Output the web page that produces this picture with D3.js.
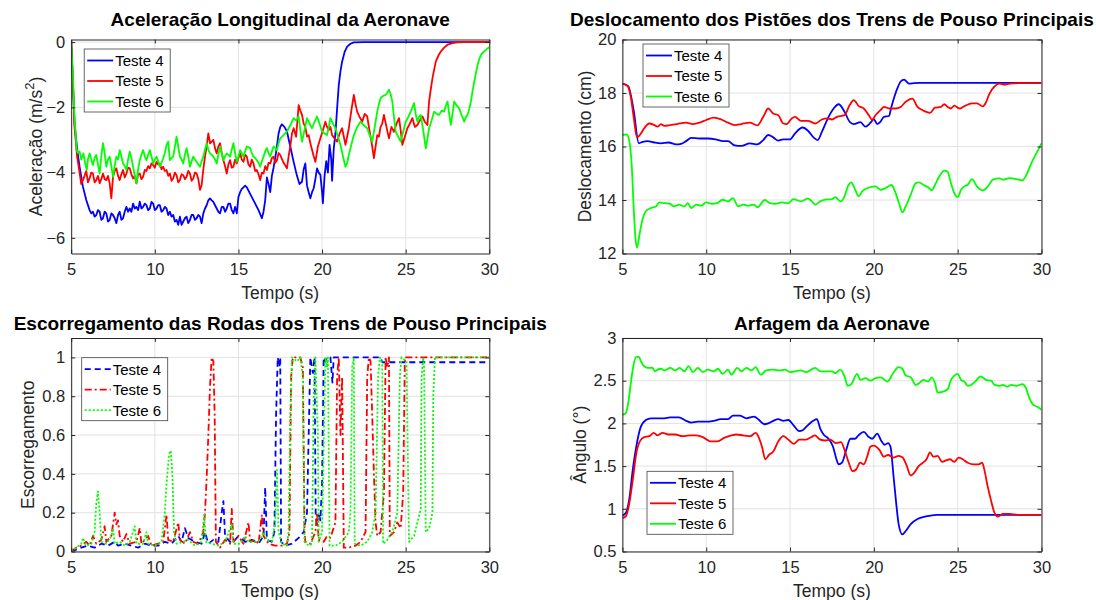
<!DOCTYPE html>
<html>
<head>
<meta charset="utf-8">
<script src="https://cdn.jsdelivr.net/npm/d3@7"></script>
<style>
  body { margin: 0; background: #fff; }
  svg { display: block; }
  text { font-family: "Liberation Sans", Arial, Helvetica, sans-serif; }
</style>
</head>
<body>
<svg id="fig" width="1096" height="600"></svg>
<script>
// ---- shared categories / ticks ----
const timeTicks = [5, 10, 15, 20, 25, 30];
const seriesNames = ["Teste 4", "Teste 5", "Teste 6"];
const seriesColors = ["#0000ff", "#ff0000", "#00ff00"];
const accelTicks = [-6, -4, -2, 0];
const displTicks = [12, 14, 16, 18, 20];
const slipTicks = [0, 0.2, 0.4, 0.6, 0.8, 1];
const pitchTicks = [0.5, 1, 1.5, 2, 2.5, 3];

// ---- longitudinal acceleration (m/s^2), [time s, value] ----
const accelTeste4 = [[5,0],[5.1,-1.2],[5.2,-2.5],[5.36,-3.3],[5.5,-3.82],[5.7,-4.43],[5.9,-4.84],[6.1,-5.15],[6.2,-5.25],[6.3,-5.2],[6.4,-5.35],[6.5,-5.3],[6.6,-5.15],[6.7,-5.2],[6.8,-5.45],[6.9,-5.4],[7.0,-5.2],[7.1,-5.25],[7.2,-5.5],[7.3,-5.45],[7.4,-5.25],[7.5,-5.3],[7.6,-5.4],[7.7,-5.55],[7.8,-5.3],[7.9,-5.2],[8.0,-5.45],[8.1,-5.4],[8.2,-5.2],[8.3,-5.05],[8.4,-5.2],[8.5,-5.1],[8.6,-5.2],[8.7,-4.95],[8.8,-5.1],[8.9,-5.05],[9.0,-5.15],[9.1,-4.89],[9.2,-5.1],[9.3,-5.05],[9.4,-4.95],[9.5,-5.0],[9.6,-5.15],[9.7,-5.1],[9.8,-4.9],[9.9,-4.95],[10.0,-5.15],[10.1,-5.1],[10.2,-5.0],[10.3,-5.0],[10.4,-5.2],[10.5,-5.15],[10.6,-5.05],[10.7,-5.1],[10.8,-5.3],[10.9,-5.2],[11.0,-5.35],[11.1,-5.3],[11.2,-5.5],[11.3,-5.45],[11.4,-5.6],[11.5,-5.35],[11.6,-5.6],[11.7,-5.5],[11.8,-5.4],[11.9,-5.35],[12.0,-5.55],[12.1,-5.45],[12.2,-5.3],[12.3,-5.3],[12.4,-5.45],[12.5,-5.4],[12.6,-5.3],[12.7,-5.35],[12.8,-5.55],[12.9,-5.25],[13.0,-5.1],[13.1,-5.0],[13.2,-4.85],[13.3,-4.79],[13.4,-4.85],[13.5,-4.9],[13.6,-5.0],[13.7,-5.1],[13.8,-5.2],[13.9,-5.25],[14.0,-5.05],[14.1,-5.05],[14.2,-5.2],[14.3,-5.1],[14.4,-4.95],[14.5,-4.95],[14.6,-5.15],[14.7,-5.25],[14.8,-5.05],[14.9,-5.25],[15.0,-4.75],[15.1,-4.6],[15.2,-4.5],[15.3,-4.45],[15.4,-4.4],[15.5,-4.45],[15.6,-4.55],[15.8,-4.75],[16.0,-4.95],[16.2,-5.15],[16.4,-5.4],[16.5,-5.2],[16.6,-4.85],[16.7,-4.15],[16.8,-4.35],[16.9,-4.6],[17.0,-4.1],[17.1,-3.85],[17.2,-3.55],[17.3,-3.2],[17.4,-2.8],[17.5,-2.6],[17.6,-2.52],[17.75,-2.6],[17.9,-2.74],[18.1,-3.2],[18.3,-3.67],[18.5,-4.1],[18.65,-4.35],[18.8,-4.28],[18.9,-3.9],[19.0,-3.72],[19.1,-4.4],[19.2,-4.6],[19.3,-4.79],[19.4,-4.6],[19.5,-4.48],[19.6,-4.2],[19.7,-3.87],[19.8,-4.0],[19.9,-4.07],[20.0,-4.6],[20.05,-4.94],[20.15,-4.1],[20.25,-3.65],[20.35,-4.0],[20.45,-3.15],[20.55,-3.6],[20.6,-4.25],[20.7,-3.26],[20.8,-2.8],[20.9,-2.03],[21.0,-1.31],[21.1,-0.9],[21.2,-0.6],[21.35,-0.3],[21.5,-0.14],[21.7,-0.05],[21.9,-0.01],[22.5,0],[30,0]];
const accelTeste5 = [[5,0],[5.1,-1.2],[5.2,-2.6],[5.35,-3.5],[5.5,-4.0],[5.6,-4.35],[5.7,-4.23],[5.8,-4.1],[5.9,-3.95],[6.0,-4.3],[6.1,-4.18],[6.2,-4.0],[6.3,-4.03],[6.4,-4.3],[6.5,-4.23],[6.6,-4.1],[6.7,-4.33],[6.8,-4.2],[6.9,-4.03],[7.0,-4.2],[7.1,-4.23],[7.2,-4.1],[7.3,-4.33],[7.4,-4.79],[7.5,-4.13],[7.6,-3.95],[7.7,-3.87],[7.8,-4.1],[7.9,-4.23],[8.0,-4.05],[8.1,-3.92],[8.2,-4.15],[8.3,-4.03],[8.4,-3.85],[8.5,-3.87],[8.6,-4.05],[8.7,-4.18],[8.8,-4.1],[8.9,-4.33],[9.0,-4.05],[9.1,-4.03],[9.2,-4.2],[9.3,-4.13],[9.4,-3.92],[9.5,-3.95],[9.6,-3.8],[9.7,-3.87],[9.8,-3.72],[9.9,-3.77],[10.0,-3.85],[10.1,-3.67],[10.2,-3.75],[10.3,-3.72],[10.4,-3.9],[10.5,-3.82],[10.6,-3.95],[10.7,-3.92],[10.8,-4.1],[10.9,-4.03],[11.0,-4.25],[11.1,-4.18],[11.2,-4.0],[11.3,-4.08],[11.4,-4.3],[11.5,-4.23],[11.6,-4.05],[11.7,-4.08],[11.8,-4.2],[11.9,-4.13],[12.0,-3.95],[12.1,-4.03],[12.2,-4.25],[12.3,-4.18],[12.4,-4.0],[12.5,-4.03],[12.6,-4.2],[12.7,-4.53],[12.8,-4.38],[12.9,-3.9],[13.0,-3.51],[13.1,-3.2],[13.2,-2.8],[13.3,-3.1],[13.4,-3.05],[13.5,-3.0],[13.6,-3.25],[13.7,-3.41],[13.8,-3.2],[13.9,-3.1],[14.0,-3.4],[14.1,-3.62],[14.2,-3.8],[14.3,-4.03],[14.4,-3.75],[14.5,-3.62],[14.6,-3.85],[14.7,-3.82],[14.8,-3.6],[14.9,-3.72],[15.0,-3.55],[15.1,-3.41],[15.2,-3.6],[15.3,-3.67],[15.4,-3.45],[15.5,-3.51],[15.6,-3.75],[15.7,-3.82],[15.8,-3.6],[15.9,-3.72],[16.0,-3.95],[16.1,-3.92],[16.2,-4.05],[16.3,-4.23],[16.4,-4.0],[16.5,-4.03],[16.6,-3.8],[16.7,-3.92],[16.8,-3.7],[16.9,-3.72],[17.0,-3.55],[17.1,-3.51],[17.2,-3.7],[17.3,-3.62],[17.4,-3.4],[17.5,-3.46],[17.7,-3.7],[17.9,-3.87],[18.0,-3.5],[18.1,-3.2],[18.2,-2.8],[18.3,-2.64],[18.45,-2.9],[18.6,-1.93],[18.7,-2.1],[18.8,-2.23],[18.9,-2.5],[19.0,-2.6],[19.1,-2.9],[19.2,-2.85],[19.3,-3.1],[19.4,-3.3],[19.5,-3.5],[19.6,-3.67],[19.75,-3.2],[19.9,-2.95],[20.05,-2.7],[20.2,-2.44],[20.3,-2.6],[20.4,-2.7],[20.5,-2.6],[20.6,-2.85],[20.75,-2.95],[20.9,-3.05],[21.05,-2.8],[21.2,-2.64],[21.3,-2.9],[21.4,-3.15],[21.5,-2.9],[21.6,-2.64],[21.75,-2.1],[21.9,-1.62],[22.0,-1.9],[22.1,-2.13],[22.25,-2.3],[22.4,-2.44],[22.55,-2.2],[22.7,-2.28],[22.8,-2.6],[22.9,-2.9],[23.0,-3.2],[23.1,-3.56],[23.2,-3.2],[23.3,-2.85],[23.4,-2.9],[23.5,-2.6],[23.6,-2.5],[23.7,-2.23],[23.85,-2.6],[24.0,-2.95],[24.15,-2.6],[24.3,-2.75],[24.45,-2.5],[24.6,-2.33],[24.7,-2.7],[24.8,-3.15],[24.95,-2.9],[25.1,-2.64],[25.25,-2.5],[25.4,-2.33],[25.55,-2.6],[25.7,-2.54],[25.85,-2.4],[26.0,-2.28],[26.15,-2.45],[26.3,-2.54],[26.4,-1.82],[26.5,-1.45],[26.6,-1.11],[26.7,-0.85],[26.8,-0.6],[26.95,-0.42],[27.1,-0.29],[27.3,-0.17],[27.5,-0.08],[27.8,-0.03],[28.1,-0.01],[28.5,0],[30,0]];
const accelTeste6 = [[5,0],[5.1,-1.0],[5.2,-2.3],[5.33,-3.31],[5.4,-3.4],[5.5,-3.35],[5.6,-3.6],[5.73,-3.41],[5.83,-3.7],[5.93,-3.92],[6.0,-3.6],[6.1,-3.41],[6.2,-3.6],[6.3,-3.77],[6.4,-3.55],[6.5,-3.46],[6.6,-3.75],[6.7,-4.03],[6.8,-3.5],[6.9,-3.1],[7.0,-3.4],[7.1,-3.82],[7.2,-3.6],[7.3,-3.51],[7.4,-3.8],[7.5,-4.13],[7.6,-3.8],[7.7,-3.51],[7.8,-3.6],[7.9,-3.31],[8.0,-3.5],[8.1,-3.72],[8.2,-3.8],[8.3,-3.92],[8.4,-3.6],[8.5,-3.36],[8.6,-3.55],[8.7,-3.82],[8.8,-4.1],[8.9,-4.33],[9.0,-3.9],[9.1,-3.62],[9.2,-3.45],[9.3,-3.31],[9.4,-3.5],[9.5,-3.62],[9.6,-3.45],[9.7,-3.31],[9.8,-3.5],[9.9,-3.72],[10.0,-3.6],[10.1,-3.51],[10.2,-3.65],[10.3,-3.82],[10.4,-3.7],[10.5,-3.56],[10.6,-3.4],[10.7,-3.15],[10.8,-3.05],[10.9,-3.62],[11.0,-3.55],[11.1,-3.51],[11.2,-3.2],[11.3,-2.9],[11.4,-3.2],[11.5,-3.51],[11.6,-3.6],[11.7,-3.72],[11.8,-3.45],[11.9,-3.25],[12.0,-3.5],[12.1,-3.82],[12.2,-3.65],[12.3,-3.51],[12.4,-3.6],[12.5,-3.67],[12.6,-3.75],[12.7,-3.82],[12.8,-3.65],[12.9,-3.51],[13.0,-3.3],[13.1,-3.1],[13.2,-3.3],[13.3,-3.41],[13.4,-3.45],[13.5,-3.51],[13.6,-3.6],[13.7,-3.72],[13.8,-3.45],[13.9,-3.2],[14.0,-3.4],[14.1,-3.62],[14.2,-3.5],[14.3,-3.41],[14.4,-3.45],[14.5,-3.51],[14.6,-3.3],[14.7,-3.1],[14.8,-3.4],[14.9,-3.67],[15.0,-3.5],[15.1,-3.31],[15.2,-3.4],[15.3,-3.51],[15.4,-3.35],[15.5,-3.2],[15.6,-3.22],[15.7,-3.25],[15.8,-3.4],[15.9,-3.51],[16.0,-3.55],[16.1,-3.62],[16.2,-3.7],[16.3,-3.82],[16.4,-3.65],[16.5,-3.51],[16.6,-3.35],[16.7,-3.25],[16.8,-3.4],[16.9,-3.51],[17.0,-3.35],[17.1,-3.2],[17.2,-3.25],[17.3,-3.31],[17.4,-3.1],[17.5,-2.95],[17.7,-2.85],[17.9,-2.74],[18.1,-2.55],[18.3,-2.33],[18.45,-2.4],[18.6,-2.28],[18.7,-2.7],[18.8,-3.05],[18.95,-2.7],[19.1,-2.33],[19.25,-2.5],[19.4,-2.64],[19.55,-2.45],[19.7,-2.28],[19.85,-2.5],[20.0,-2.74],[20.15,-2.8],[20.3,-2.85],[20.4,-2.6],[20.5,-2.33],[20.65,-2.5],[20.8,-2.64],[20.95,-2.9],[21.1,-3.15],[21.25,-3.5],[21.4,-3.82],[21.5,-3.7],[21.6,-3.46],[21.75,-3.15],[21.9,-2.85],[22.1,-2.6],[22.3,-2.44],[22.5,-2.55],[22.7,-2.64],[22.85,-2.85],[23.0,-3.05],[23.15,-2.6],[23.3,-2.13],[23.4,-1.9],[23.5,-1.72],[23.65,-1.65],[23.8,-1.62],[23.9,-1.55],[24.0,-1.46],[24.1,-1.6],[24.2,-1.82],[24.3,-2.3],[24.4,-2.74],[24.55,-2.9],[24.7,-3.05],[24.85,-2.75],[25.0,-2.44],[25.15,-2.3],[25.3,-2.13],[25.4,-2.0],[25.5,-1.87],[25.6,-2.2],[25.7,-2.44],[25.8,-2.3],[25.9,-2.23],[26.05,-2.7],[26.2,-3.26],[26.3,-2.95],[26.4,-2.64],[26.55,-2.4],[26.7,-2.13],[26.85,-2.2],[27.0,-2.23],[27.15,-2.1],[27.3,-2.13],[27.4,-1.95],[27.5,-1.82],[27.6,-2.2],[27.7,-2.54],[27.8,-2.2],[27.9,-1.82],[28.05,-1.95],[28.2,-2.03],[28.35,-2.25],[28.5,-2.44],[28.6,-2.3],[28.7,-2.23],[28.8,-2.05],[28.9,-1.82],[29.0,-1.5],[29.1,-1.21],[29.2,-0.95],[29.3,-0.7],[29.4,-0.52],[29.5,-0.39],[29.65,-0.3],[29.8,-0.24],[30,-0.15]];

// ---- landing-gear piston displacement (cm) ----
const displTeste4 = [[5,18.35],[5.35,18.25],[5.67,17.36],[5.98,16.12],[6.2,16.17],[6.5,16.2],[6.9,16.15],[7.3,16.12],[7.75,16.15],[8.2,16.08],[8.5,16.1],[8.8,16.2],[9.1,16.32],[9.6,16.3],[10.1,16.3],[10.55,16.27],[11.0,16.2],[11.3,16.2],[11.7,16.04],[12.1,16.02],[12.6,16.12],[13.05,16.08],[13.4,16.24],[13.7,16.43],[14.0,16.34],[14.3,16.22],[14.6,16.27],[15.0,16.27],[15.3,16.49],[15.75,16.71],[16.07,16.59],[16.4,16.34],[16.65,16.24],[16.9,16.55],[17.3,17.11],[17.6,17.42],[17.9,17.58],[18.25,17.3],[18.56,16.92],[18.8,16.84],[19.2,16.91],[19.5,16.74],[19.8,16.89],[20.0,17.02],[20.2,16.84],[20.4,16.93],[20.6,17.11],[20.9,17.14],[21.05,17.49],[21.4,18.17],[21.6,18.43],[21.8,18.5],[22.1,18.35],[22.4,18.37],[22.7,18.38],[30,18.38]];
const displTeste5 = [[5,18.35],[5.3,18.27],[5.5,17.85],[5.67,17.11],[5.87,16.34],[6.04,16.43],[6.3,16.68],[6.6,16.86],[6.9,16.8],[7.1,16.74],[7.3,16.84],[7.5,16.77],[7.85,16.8],[8.27,16.84],[8.8,16.89],[9.2,16.84],[9.6,16.89],[10.0,16.99],[10.45,17.08],[10.9,17.01],[11.3,16.89],[11.7,16.8],[12.1,16.84],[12.6,16.89],[13.05,16.79],[13.4,17.11],[13.7,17.42],[14.0,17.23],[14.3,17.17],[14.6,16.86],[14.8,16.84],[15.1,17.05],[15.3,17.11],[15.65,16.96],[16.07,16.96],[16.5,16.86],[16.9,17.01],[17.2,17.05],[17.5,17.01],[17.8,17.11],[18.25,17.17],[18.56,17.55],[18.8,17.73],[19.1,17.51],[19.4,17.42],[19.7,17.17],[19.9,17.0],[20.1,17.17],[20.4,17.36],[20.6,17.48],[20.95,17.42],[21.3,17.42],[21.6,17.48],[21.9,17.67],[22.3,17.79],[22.6,17.48],[22.9,17.36],[23.35,17.26],[23.65,17.45],[24.0,17.48],[24.2,17.58],[24.4,17.48],[24.6,17.42],[24.8,17.53],[25.1,17.42],[25.4,17.51],[25.85,17.61],[26.15,17.61],[26.5,17.5],[26.7,17.67],[26.9,17.98],[27.2,18.25],[27.5,18.35],[27.8,18.31],[28.1,18.35],[28.6,18.37],[30,18.37]];
const displTeste6 = [[5,16.43],[5.25,16.45],[5.4,16.24],[5.56,15.25],[5.67,13.76],[5.77,12.65],[5.87,12.22],[6.04,12.78],[6.2,13.27],[6.4,13.58],[6.7,13.7],[7.0,13.76],[7.2,13.91],[7.5,13.88],[7.85,13.86],[8.06,13.76],[8.37,13.83],[8.7,13.76],[8.9,13.88],[9.1,13.7],[9.4,13.83],[9.7,13.79],[10.0,13.91],[10.35,13.86],[10.65,13.88],[10.97,14.01],[11.3,13.95],[11.6,14.07],[11.9,13.76],[12.2,13.83],[12.5,13.79],[12.85,13.83],[13.05,13.73],[13.5,14.0],[13.8,13.88],[14.1,13.86],[14.5,13.91],[14.9,13.88],[15.2,14.03],[15.65,13.95],[16.07,14.05],[16.3,13.95],[16.5,13.83],[16.8,13.95],[17.1,14.01],[17.5,14.03],[17.7,14.11],[18.0,13.95],[18.25,14.14],[18.45,14.51],[18.66,14.66],[18.8,14.51],[19.1,14.14],[19.3,14.32],[19.5,14.41],[19.8,14.48],[20.1,14.51],[20.4,14.38],[20.7,14.45],[21.05,14.56],[21.26,14.32],[21.5,13.88],[21.7,13.54],[21.9,13.76],[22.2,14.2],[22.5,14.63],[22.7,14.66],[22.97,14.56],[23.24,14.48],[23.45,14.36],[23.65,14.57],[23.9,14.88],[24.2,15.1],[24.4,15.06],[24.6,14.63],[24.8,14.26],[25.0,14.11],[25.2,14.38],[25.4,14.51],[25.6,14.57],[25.85,14.78],[26.15,14.51],[26.5,14.36],[26.8,14.51],[27.1,14.76],[27.5,14.81],[27.7,14.76],[28.1,14.82],[28.5,14.78],[28.85,14.73],[29.05,14.88],[29.4,15.38],[29.7,15.75],[30,16.12]];

// ---- main-gear wheel slip ratio ----
const slipTeste4 = [[5,0],[5.3,0.01],[5.6,0.02],[6.0,0.03],[6.4,0.02],[6.8,0.04],[7.2,0.03],[7.6,0.05],[7.8,0.03],[8.2,0.04],[8.6,0.03],[9.0,0.02],[9.4,0.04],[9.8,0.03],[10.2,0.03],[10.6,0.05],[11.0,0.04],[11.4,0.08],[11.6,0.05],[11.8,0.12],[12.0,0.07],[12.4,0.05],[12.8,0.04],[13.0,0.1],[13.2,0.04],[13.5,0.06],[13.8,0.05],[14.0,0.2],[14.1,0.26],[14.2,0.08],[14.5,0.05],[14.8,0.06],[15.0,0.08],[15.4,0.05],[15.8,0.06],[16.2,0.04],[16.5,0.08],[16.6,0.33],[16.7,0.06],[17.0,0.05],[17.15,0.1],[17.25,0.7],[17.35,1],[17.45,0.95],[17.5,1],[17.55,0.05],[17.8,0.03],[18.2,0.04],[18.6,0.07],[18.9,0.1],[19.1,0.2],[19.2,0.6],[19.3,1],[19.45,0.92],[19.55,1],[19.62,0.18],[19.7,0.14],[19.8,0.2],[19.9,0.16],[20.0,0.35],[20.1,1],[20.2,0.98],[20.3,1],[20.5,1],[20.62,0.87],[20.7,1],[23.5,1],[23.6,0.975],[30,0.975]];
const slipTeste5 = [[5,0],[5.3,0.02],[5.6,0.03],[5.9,0.05],[6.1,0.03],[6.3,0.08],[6.5,0.04],[6.8,0.06],[7.0,0.13],[7.1,0.05],[7.4,0.08],[7.6,0.2],[7.7,0.14],[7.8,0.16],[7.9,0.08],[8.1,0.05],[8.3,0.09],[8.5,0.04],[8.9,0.05],[9.1,0.12],[9.2,0.04],[9.6,0.08],[9.8,0.03],[10.2,0.04],[10.5,0.05],[10.7,0.19],[10.8,0.06],[11.1,0.05],[11.4,0.15],[11.5,0.06],[11.8,0.04],[12.1,0.1],[12.3,0.05],[12.6,0.04],[12.9,0.1],[13.0,0.2],[13.1,0.38],[13.2,0.6],[13.3,0.85],[13.4,1],[13.5,0.98],[13.58,0.7],[13.65,0.05],[13.9,0.02],[14.2,0.06],[14.5,0.04],[14.6,0.22],[14.7,0.05],[15.0,0.08],[15.3,0.04],[15.6,0.15],[15.7,0.05],[16.0,0.06],[16.2,0.04],[16.4,0.19],[16.5,0.08],[16.8,0.04],[17.2,0.03],[17.6,0.03],[17.9,0.04],[18.05,0.1],[18.15,0.9],[18.25,1],[18.7,1],[18.85,0.95],[18.95,0.1],[19.0,0.05],[19.3,0.04],[19.6,0.1],[19.7,0.2],[19.8,0.06],[20.1,0.05],[20.3,0.08],[20.5,0.07],[20.8,0.15],[20.9,0.9],[21.0,1],[21.1,0.6],[21.2,0.9],[21.3,0.02],[21.6,0.02],[22.0,0.03],[22.3,0.05],[22.6,0.1],[22.7,0.9],[22.8,1],[22.9,0.98],[23.0,0.7],[23.1,0.4],[23.2,0.15],[23.3,0.08],[23.5,0.1],[23.7,0.3],[23.8,1],[23.9,0.95],[24.0,1],[24.05,0.08],[24.3,0.1],[24.5,0.15],[24.7,0.12],[24.85,0.3],[24.95,1],[30,1]];
const slipTeste6 = [[5,0],[5.3,0.02],[5.6,0.04],[5.7,0.07],[5.9,0.03],[6.2,0.04],[6.4,0.1],[6.5,0.25],[6.6,0.31],[6.7,0.2],[6.8,0.05],[7.1,0.04],[7.4,0.08],[7.5,0.12],[7.6,0.04],[7.9,0.05],[8.2,0.03],[8.5,0.05],[8.8,0.13],[8.9,0.04],[9.3,0.04],[9.5,0.1],[9.6,0.04],[10.0,0.03],[10.4,0.05],[10.6,0.2],[10.7,0.35],[10.85,0.5],[10.95,0.52],[11.05,0.4],[11.15,0.1],[11.3,0.04],[11.7,0.05],[12.0,0.06],[12.4,0.03],[12.8,0.05],[12.95,0.19],[13.05,0.05],[13.4,0.04],[13.8,0.03],[14.2,0.05],[14.6,0.14],[14.7,0.04],[15.1,0.04],[15.4,0.08],[15.6,0.05],[16.0,0.05],[16.3,0.06],[16.5,0.1],[16.7,0.06],[17.0,0.05],[17.2,0.15],[17.3,0.42],[17.4,0.1],[17.6,0.04],[17.9,0.03],[18.0,0.1],[18.1,0.7],[18.2,1],[18.5,0.98],[18.7,1],[18.85,0.9],[18.95,0.05],[19.2,0.03],[19.4,0.04],[19.5,0.8],[19.6,1],[19.75,0.6],[19.8,0.05],[20.0,0.1],[20.2,1],[20.3,0.95],[20.35,1],[20.45,0.03],[20.8,0.03],[21.2,0.05],[21.6,0.1],[21.7,0.2],[21.8,0.95],[21.9,1],[21.95,0.04],[22.3,0.03],[22.7,0.05],[23.0,0.1],[23.2,0.2],[23.35,0.9],[23.45,1],[23.6,0.97],[23.65,0.04],[23.9,0.06],[24.2,0.1],[24.5,0.2],[24.65,0.9],[24.75,1],[25.05,0.98],[25.2,0.05],[25.5,0.08],[25.7,0.15],[25.9,0.22],[25.95,0.9],[26.05,1],[26.1,0.95],[26.2,0.1],[26.4,0.12],[26.6,0.2],[26.65,0.8],[26.75,1],[30,1]];

// ---- aircraft pitch angle (deg) ----
const pitchTeste4 = [[5,0.92],[5.2,0.95],[5.4,1.1],[5.62,1.46],[5.83,1.73],[6.08,1.95],[6.4,2.04],[6.7,2.06],[7.1,2.06],[7.5,2.06],[7.85,2.07],[8.37,2.07],[8.8,2.03],[9.1,2.01],[9.5,2.02],[9.9,2.02],[10.45,2.03],[10.87,2.05],[11.3,2.05],[11.6,2.09],[12.0,2.09],[12.4,2.06],[12.85,2.08],[13.15,2.04],[13.47,1.99],[13.7,2.0],[14.0,2.03],[14.3,2.05],[14.6,2.03],[14.9,2.04],[15.2,1.98],[15.55,1.91],[15.75,1.92],[16.07,1.98],[16.38,2.03],[16.6,2.05],[16.8,1.94],[17.0,1.87],[17.3,1.82],[17.56,1.73],[17.77,1.58],[17.9,1.52],[18.1,1.54],[18.35,1.69],[18.6,1.82],[18.87,1.82],[19.08,1.86],[19.4,1.9],[19.7,1.84],[19.9,1.82],[20.2,1.88],[20.43,1.8],[20.64,1.75],[20.85,1.77],[21.0,1.72],[21.16,1.41],[21.33,1.07],[21.47,0.83],[21.7,0.7],[21.9,0.74],[22.2,0.82],[22.6,0.88],[23.1,0.91],[23.75,0.93],[24.6,0.93],[30,0.93]];
const pitchTeste5 = [[5,0.89],[5.2,0.91],[5.4,1.05],[5.62,1.34],[5.83,1.65],[6.04,1.79],[6.3,1.84],[6.6,1.85],[6.87,1.89],[7.1,1.86],[7.4,1.89],[7.75,1.87],[8.16,1.87],[8.58,1.85],[9.0,1.86],[9.4,1.86],[9.8,1.84],[10.24,1.79],[10.66,1.79],[11.07,1.83],[11.5,1.86],[11.8,1.87],[12.2,1.86],[12.63,1.85],[12.95,1.89],[13.1,1.85],[13.32,1.73],[13.53,1.58],[13.74,1.63],[14.0,1.67],[14.3,1.79],[14.6,1.85],[14.9,1.81],[15.23,1.76],[15.55,1.81],[15.96,1.81],[16.27,1.84],[16.48,1.86],[16.8,1.81],[17.1,1.8],[17.4,1.81],[17.73,1.77],[18.04,1.78],[18.25,1.69],[18.52,1.53],[18.73,1.44],[18.94,1.46],[19.18,1.54],[19.4,1.52],[19.6,1.61],[19.8,1.73],[20.0,1.74],[20.33,1.69],[20.6,1.61],[20.85,1.63],[21.16,1.6],[21.47,1.62],[21.72,1.6],[21.93,1.52],[22.2,1.39],[22.4,1.42],[22.67,1.5],[22.93,1.54],[23.14,1.58],[23.35,1.66],[23.55,1.61],[23.8,1.62],[24.07,1.55],[24.34,1.57],[24.55,1.58],[24.8,1.55],[25.05,1.6],[25.3,1.58],[25.6,1.54],[25.95,1.52],[26.25,1.52],[26.46,1.54],[26.6,1.45],[26.77,1.28],[27.0,1.09],[27.2,0.95],[27.4,0.91],[27.7,0.94],[28.1,0.94],[28.6,0.93],[30,0.93]];
const pitchTeste6 = [[5,2.1],[5.2,2.12],[5.35,2.24],[5.5,2.47],[5.67,2.69],[5.83,2.78],[5.98,2.78],[6.1,2.73],[6.3,2.67],[6.55,2.65],[6.8,2.65],[6.95,2.61],[7.1,2.63],[7.3,2.64],[7.5,2.62],[7.85,2.65],[8.16,2.62],[8.4,2.65],[8.7,2.61],[8.95,2.67],[9.2,2.6],[9.5,2.65],[9.8,2.6],[10.1,2.63],[10.45,2.61],[10.7,2.64],[10.97,2.58],[11.3,2.63],[11.5,2.57],[11.85,2.65],[12.1,2.61],[12.4,2.65],[12.7,2.62],[12.95,2.66],[13.25,2.57],[13.57,2.62],[14.0,2.63],[14.4,2.62],[14.7,2.63],[15.0,2.6],[15.3,2.61],[15.65,2.62],[15.96,2.6],[16.5,2.65],[16.8,2.61],[17.1,2.61],[17.5,2.61],[17.7,2.59],[18.0,2.63],[18.25,2.55],[18.45,2.44],[18.66,2.46],[19.0,2.58],[19.2,2.51],[19.5,2.53],[19.8,2.5],[20.1,2.53],[20.4,2.54],[20.8,2.49],[21.16,2.59],[21.47,2.66],[21.7,2.64],[21.9,2.56],[22.2,2.54],[22.5,2.45],[22.7,2.47],[22.97,2.51],[23.24,2.49],[23.45,2.54],[23.65,2.47],[23.8,2.36],[24.07,2.37],[24.4,2.4],[24.6,2.51],[24.8,2.56],[25.0,2.58],[25.2,2.51],[25.4,2.49],[25.6,2.44],[25.8,2.45],[26.05,2.49],[26.36,2.55],[26.7,2.51],[27.0,2.5],[27.2,2.45],[27.5,2.44],[27.7,2.45],[27.96,2.43],[28.2,2.45],[28.5,2.44],[28.85,2.46],[29.06,2.42],[29.27,2.3],[29.5,2.22],[29.8,2.19],[30,2.16]];

// ---- figure ----
const svg = d3.select("#fig");
const ink = "#262626";
const gridColor = "#e2e2e2";

function drawPanel(p) {
  const x = d3.scaleLinear().domain([5, 30]).range([p.left, p.right]);
  const y = d3.scaleLinear().domain(p.yDomain).range([p.bottom, p.top]);
  const g = svg.append("g");

  // grid
  g.append("g").selectAll("line").data(timeTicks).join("line")
    .attr("x1", d => x(d)).attr("x2", d => x(d))
    .attr("y1", p.top).attr("y2", p.bottom)
    .attr("stroke", gridColor).attr("stroke-width", 1);
  g.append("g").selectAll("line").data(p.yTicks).join("line")
    .attr("x1", p.left).attr("x2", p.right)
    .attr("y1", d => y(d)).attr("y2", d => y(d))
    .attr("stroke", gridColor).attr("stroke-width", 1);

  // data lines
  const clipId = "clip-" + p.id;
  svg.append("clipPath").attr("id", clipId).append("rect")
    .attr("x", p.left).attr("y", p.top)
    .attr("width", p.right - p.left).attr("height", p.bottom - p.top);
  const line = d3.line().x(d => x(d[0])).y(d => y(d[1])).curve(p.curve);
  const plot = g.append("g").attr("clip-path", `url(#${clipId})`);
  p.series.forEach((s, i) => {
    plot.append("path")
      .attr("d", line(s))
      .attr("fill", "none")
      .attr("stroke", seriesColors[i])
      .attr("stroke-width", p.lineWidth)
      .attr("stroke-linejoin", "round")
      .attr("stroke-dasharray", p.dashes ? p.dashes[i] : null);
  });

  // axes (ticks pointing inward, box on all sides)
  const styleAxis = sel => {
    sel.select(".domain").attr("stroke", ink).attr("stroke-width", 1);
    sel.selectAll(".tick line").attr("stroke", ink).attr("stroke-width", 1);
    sel.selectAll(".tick text").attr("fill", ink)
      .style("font-family", '"Liberation Sans", Arial, sans-serif')
      .style("font-size", "16.5px");
  };
  g.append("g").attr("transform", `translate(0,${p.bottom})`)
    .call(d3.axisBottom(x).tickValues(timeTicks).tickSizeInner(-4).tickSizeOuter(0).tickPadding(10).tickFormat(d3.format("d")))
    .call(styleAxis);
  g.append("g").attr("transform", `translate(0,${p.top})`)
    .call(d3.axisTop(x).tickValues(timeTicks).tickSizeInner(-4).tickSizeOuter(0).tickFormat(""))
    .call(styleAxis);
  g.append("g").attr("transform", `translate(${p.left},0)`)
    .call(d3.axisLeft(y).tickValues(p.yTicks).tickSizeInner(-4).tickSizeOuter(0).tickPadding(6).tickFormat(p.tickFormat))
    .call(styleAxis);
  g.append("g").attr("transform", `translate(${p.right},0)`)
    .call(d3.axisRight(y).tickValues(p.yTicks).tickSizeInner(-4).tickSizeOuter(0).tickFormat(""))
    .call(styleAxis);

  // title and labels
  const cx = (p.left + p.right) / 2, cy = (p.top + p.bottom) / 2;
  g.append("text").attr("x", cx).attr("y", p.top - p.titleGap)
    .attr("text-anchor", "middle").attr("font-weight", "bold")
    .attr("font-size", "19px").attr("fill", "#000").text(p.title);
  g.append("text").attr("x", cx).attr("y", p.bottom + 45)
    .attr("text-anchor", "middle").attr("font-size", "17.5px").attr("fill", ink)
    .text("Tempo (s)");
  const yl = g.append("text")
    .attr("transform", `translate(${p.ylabelX},${cy}) rotate(-90)`)
    .attr("dy", "0.35em")
    .attr("text-anchor", "middle").attr("font-size", "17.5px").attr("fill", ink);
  yl.append("tspan").text(p.ylabel);
  if (p.ylabelSup) {
    yl.append("tspan").attr("font-size", "13px").attr("dy", "-0.65em").text(p.ylabelSup);
    yl.append("tspan").attr("dy", "0.5em").text(p.ylabelTail);
  }

  // legend
  const lg = g.append("g").attr("transform", `translate(${p.legend[0]},${p.legend[1]})`);
  lg.append("rect").attr("x", 0).attr("y", 0).attr("width", 86).attr("height", 63)
    .attr("fill", "#fff").attr("stroke", "#444").attr("stroke-width", 0.8);
  seriesNames.forEach((name, i) => {
    const ry = 11.5 + i * 20.5;
    lg.append("line").attr("x1", 3).attr("x2", 29).attr("y1", ry).attr("y2", ry)
      .attr("stroke", seriesColors[i]).attr("stroke-width", p.lineWidth)
      .attr("stroke-dasharray", p.dashes ? p.dashes[i] : null);
    lg.append("text").attr("x", 31).attr("y", ry).attr("dy", "0.36em")
      .attr("font-size", "15px").attr("fill", "#000").text(name);
  });
}

const topY = 39.5, botY = 253.5, top2 = 338, bot2 = 551.5;
const leftA = 71.2, rightA = 489.3, leftB = 622.4, rightB = 1041.5;

drawPanel({
  id: "accel", left: leftA, right: rightA, top: topY, bottom: botY, titleGap: 13.5,
  yDomain: [-6.48, 0.08], yTicks: accelTicks, tickFormat: d3.format("d"),
  title: "Aceleração Longitudinal da Aeronave",
  ylabel: "Aceleração (m/s", ylabelSup: "2", ylabelTail: ")", ylabelX: 36,
  series: [accelTeste4, accelTeste5, accelTeste6], curve: d3.curveLinear,
  lineWidth: 1.8, legend: [84.2, 49]
});
drawPanel({
  id: "displ", left: leftB, right: rightB, top: topY, bottom: botY, titleGap: 13.5,
  yDomain: [12, 20], yTicks: displTicks, tickFormat: d3.format("d"),
  title: "Deslocamento dos Pistões dos Trens de Pouso Principais",
  ylabel: "Deslocamento (cm)", ylabelX: 585,
  series: [displTeste4, displTeste5, displTeste6], curve: d3.curveMonotoneX,
  lineWidth: 1.8, legend: [643, 44]
});
drawPanel({
  id: "slip", left: leftA, right: rightA, top: top2, bottom: bot2, titleGap: 8.5,
  yDomain: [0, 1.1], yTicks: slipTicks, tickFormat: d => String(d),
  title: "Escorregamento das Rodas dos Trens de Pouso Principais",
  ylabel: "Escorregamento", ylabelX: 28,
  series: [slipTeste4, slipTeste5, slipTeste6], curve: d3.curveLinear,
  lineWidth: 1.8, dashes: ["6,4", "7,3,2,3", "2,2"], legend: [81.7, 357.7]
});
drawPanel({
  id: "pitch", left: leftB, right: rightB, top: top2, bottom: bot2, titleGap: 8.5,
  yDomain: [0.5, 3], yTicks: pitchTicks, tickFormat: d => String(d),
  title: "Arfagem da Aeronave",
  ylabel: "Ângulo (°)", ylabelX: 580,
  series: [pitchTeste4, pitchTeste5, pitchTeste6], curve: d3.curveMonotoneX,
  lineWidth: 1.8, legend: [647, 471.3]
});
</script>
</body>
</html>
